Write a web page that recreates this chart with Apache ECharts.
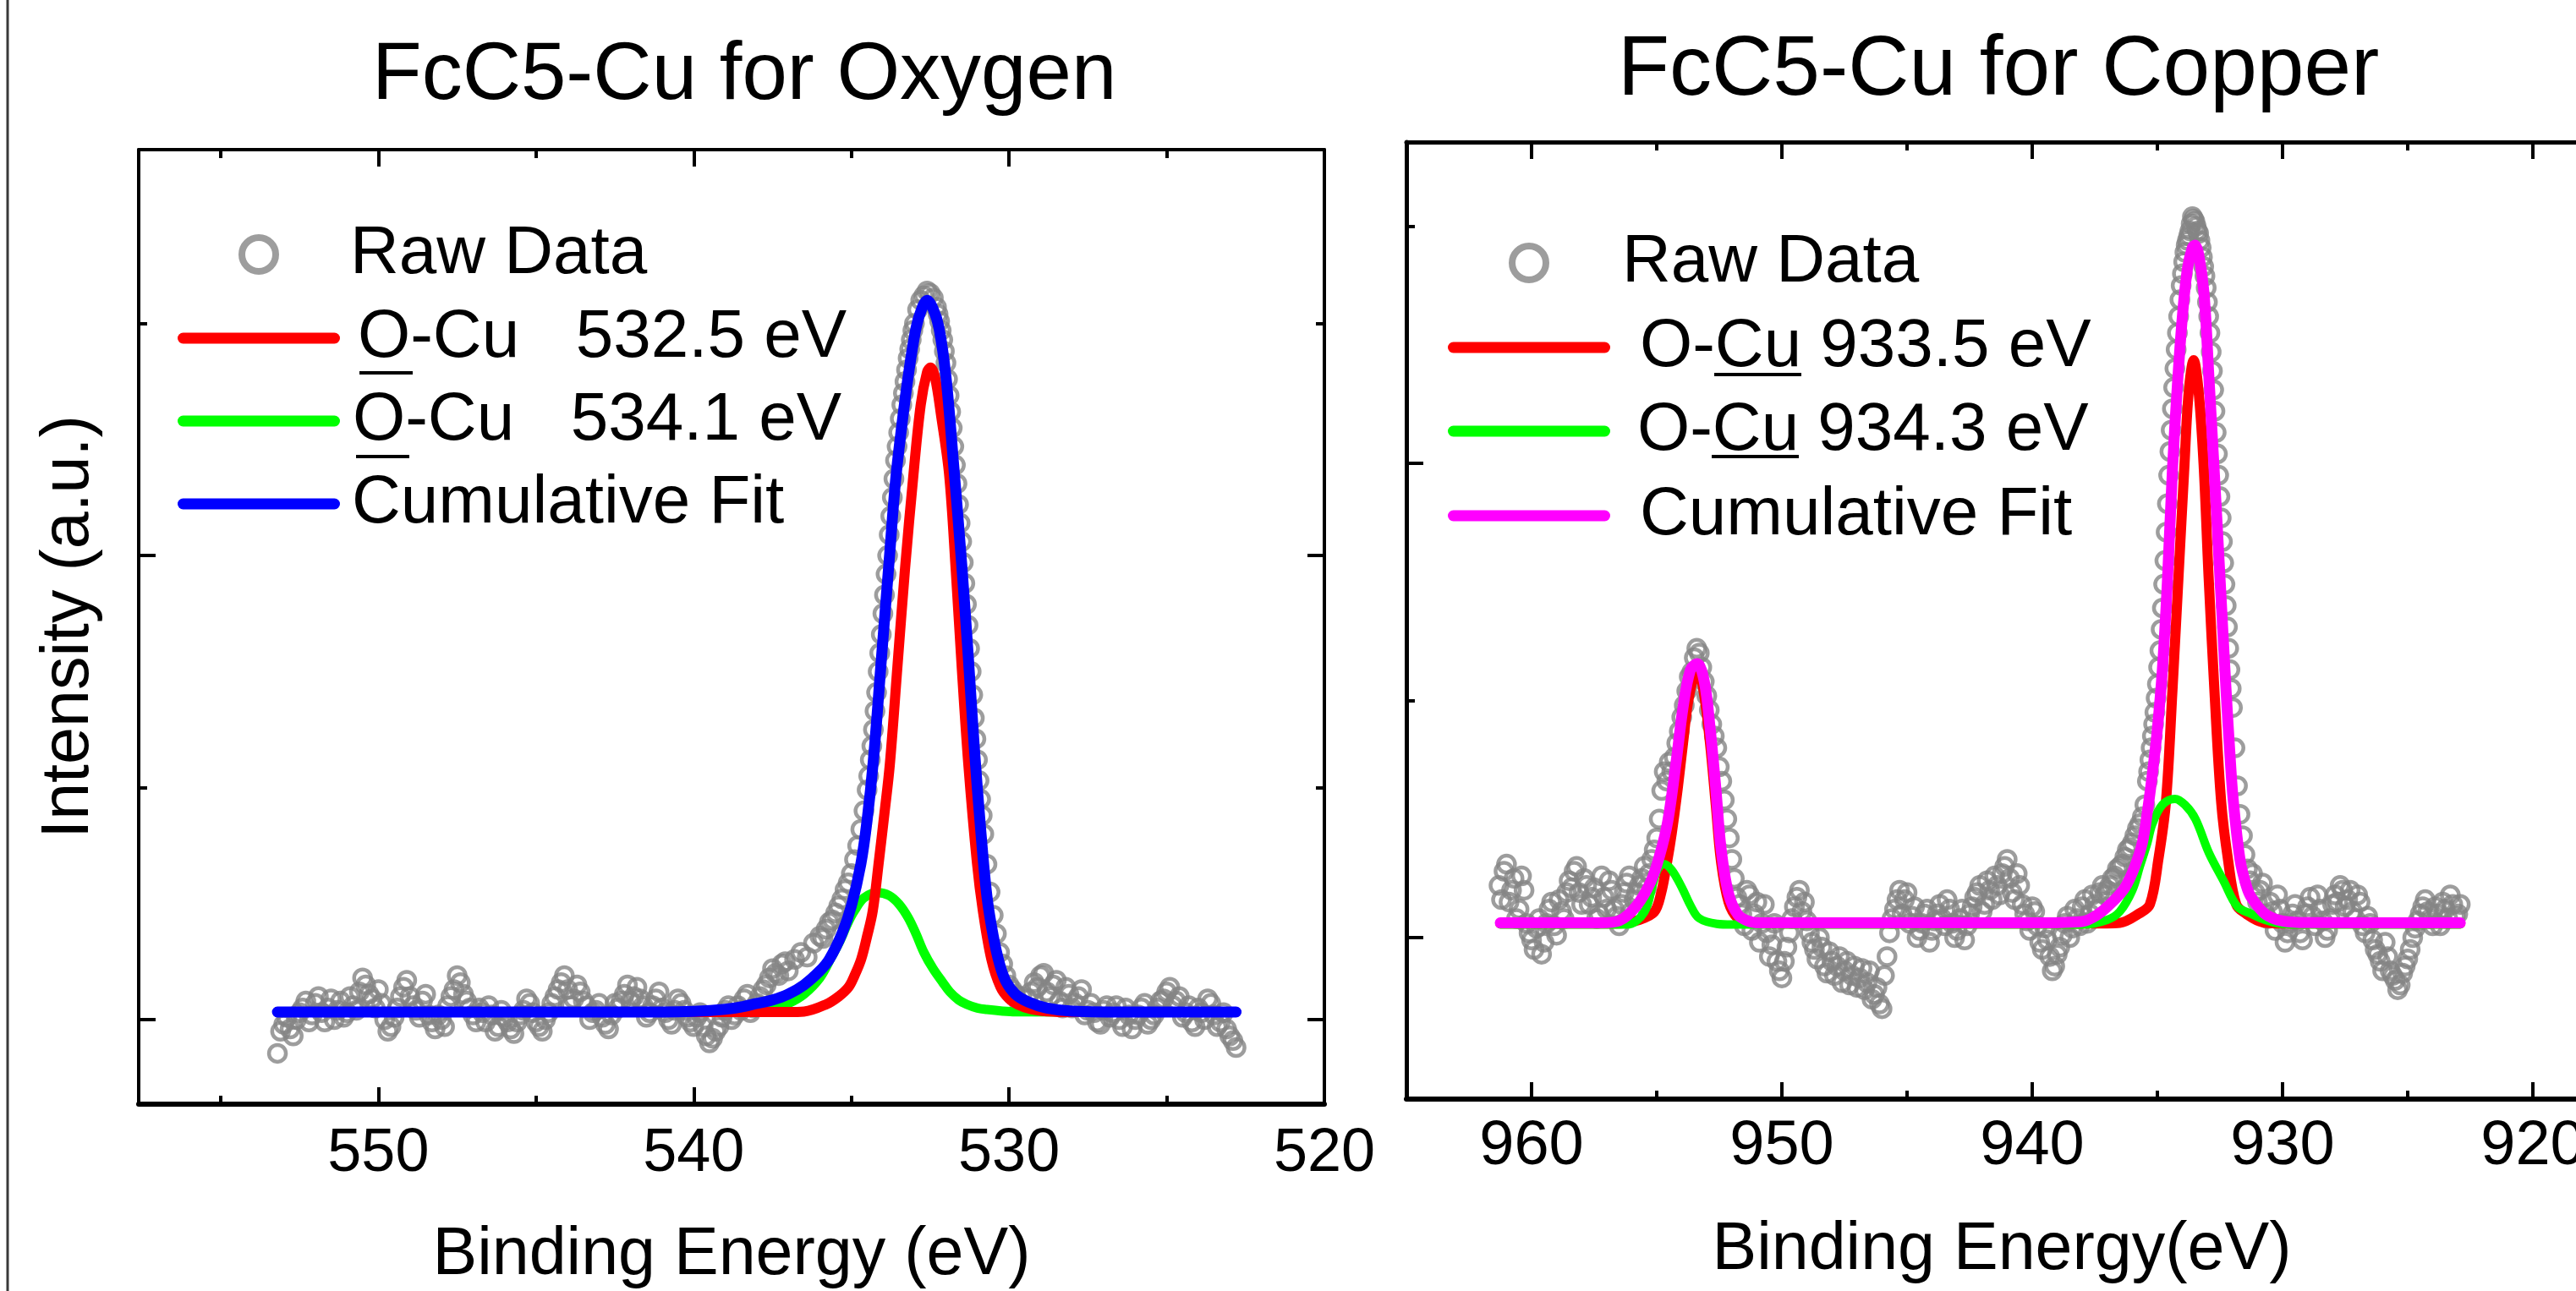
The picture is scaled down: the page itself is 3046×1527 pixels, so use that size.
<!DOCTYPE html>
<html>
<head>
<meta charset="utf-8">
<title>FcC5-Cu XPS</title>
<script src="https://cdn.jsdelivr.net/npm/echarts@6.0.0/dist/echarts.min.js"></script>
<style>
  html, body { margin: 0; padding: 0; background: #fff; }
  #chart { width: 3046px; height: 1527px; }
</style>
</head>
<body>
<div id="chart"></div>
<script>
// ---- O 1s panel: [binding energy (eV), intensity (a.u.)] ----
const oxygenRaw = [
  [553.2,1.855],[553.0,1.98],[552.8,1.96],[552.6,2.00],[552.4,2.05],[552.2,1.99],[552.0,2.07],[551.8,2.03],
  [551.6,2.05],[551.4,2.00],[551.2,2.08],[551.0,2.03],[550.8,2.06],[550.6,2.12],[550.4,2.15],[550.2,2.09],
  [550.0,2.13],[549.8,2.00],[549.6,1.97],[549.4,2.05],[549.2,2.14],[549.0,2.10],[548.8,2.04],[548.6,2.08],
  [548.4,2.02],[548.2,1.96],[548.0,2.00],[547.8,2.06],[547.6,2.13],[547.4,2.16],[547.2,2.08],[547.0,2.02],
  [546.8,2.05],[546.6,1.99],[546.4,2.02],[546.2,1.97],[546.0,2.01],[545.8,1.96],[545.6,1.99],[545.4,2.04],
  [545.2,2.07],[545.0,1.99],[544.8,1.95],[544.6,2.03],[544.4,2.10],[544.2,2.16],[544.0,2.13],[543.8,2.09],
  [543.6,2.12],[543.4,2.06],[543.2,2.03],[543.0,2.07],[542.8,1.98],[542.6,2.02],[542.4,2.05],[542.2,2.11],
  [542.0,2.08],[541.8,2.14],[541.6,2.06],[541.4,2.03],[541.2,2.09],[541.0,2.05],[540.8,2.00],[540.6,2.04],
  [540.4,2.07],[540.2,2.01],[540.0,1.97],[539.8,2.03],[539.6,1.93],[539.4,1.92],[539.2,1.97],[539.0,2.04],
  [538.8,2.00],[538.6,2.06],[538.4,2.09],[538.2,2.03],[538.0,2.07],[537.8,2.13],[537.6,2.18],[537.4,2.20],
  [537.2,2.24],[537.0,2.21],[536.8,2.26],[536.6,2.29],[536.4,2.27],[536.2,2.33],[536.0,2.36],[535.9,2.35],
  [535.8,2.39],[535.7,2.42],[535.6,2.43],[535.5,2.46],[535.4,2.49],[535.3,2.52],[535.2,2.56],[535.1,2.59],
  [535.0,2.63],[534.9,2.69],[534.8,2.75],[534.7,2.82],[534.6,2.90],[534.5,2.99],[534.45,3.05],[534.4,3.12],
  [534.35,3.18],[534.3,3.25],[534.25,3.33],[534.2,3.41],[534.15,3.50],[534.1,3.58],[534.05,3.66],[534.0,3.75],
  [533.95,3.83],[533.9,3.92],[533.85,4.00],[533.8,4.09],[533.75,4.17],[533.7,4.25],[533.65,4.33],[533.6,4.41],
  [533.55,4.47],[533.5,4.53],[533.45,4.59],[533.4,4.65],[533.35,4.70],[533.3,4.75],[533.25,4.80],[533.2,4.85],
  [533.15,4.89],[533.1,4.93],[533.05,4.97],[533.0,5.00],[532.9,5.06],[532.8,5.10],[532.7,5.12],[532.6,5.14],
  [532.5,5.13],[532.4,5.11],[532.3,5.07],[532.25,5.04],[532.2,5.01],[532.15,4.97],[532.1,4.93],[532.05,4.88],
  [532.0,4.83],[531.95,4.76],[531.9,4.69],[531.85,4.62],[531.8,4.55],[531.75,4.47],[531.7,4.39],[531.65,4.31],
  [531.6,4.22],[531.55,4.14],[531.5,4.06],[531.45,3.97],[531.4,3.88],[531.35,3.79],[531.3,3.70],[531.25,3.60],
  [531.2,3.50],[531.15,3.40],[531.1,3.30],[531.05,3.21],[531.0,3.12],[530.95,3.03],[530.9,2.95],[530.85,2.88],
  [530.8,2.80],[530.7,2.67],[530.6,2.55],[530.5,2.45],[530.4,2.37],[530.3,2.29],[530.2,2.24],[530.1,2.19],
  [530.0,2.15],[529.9,2.13],[529.8,2.11],[529.7,2.08],[529.6,2.10],[529.5,2.06],[529.4,2.09],[529.2,2.16],
  [529.0,2.19],[528.8,2.12],[528.6,2.15],[528.4,2.08],[528.2,2.14],[528.0,2.05],[527.8,2.10],[527.6,2.02],
  [527.4,2.07],[527.2,1.99],[527.0,2.04],[526.8,2.01],[526.6,2.06],[526.4,1.97],[526.2,2.02],[526.0,2.00],
  [525.8,2.05],[525.6,1.98],[525.4,2.02],[525.2,2.08],[525.0,2.12],[524.8,2.06],[524.6,2.10],[524.4,2.03],
  [524.2,1.99],[524.0,2.05],[523.8,2.00],[523.6,2.07],[523.4,1.97],[523.2,2.03],[523.0,1.93],[522.8,1.88],
  // in-between scan points of the flat regions
  [553.1,1.95],[552.9,2.01],[552.7,1.93],[552.5,2.03],[552.3,2.08],[552.1,2.02],[551.9,2.10],[551.7,1.99],
  [551.5,2.09],[551.3,2.04],[551.1,2.01],[550.9,2.10],[550.7,2.04],[550.5,2.18],[550.3,2.11],[550.1,2.05],
  [549.9,2.07],[549.7,1.95],[549.5,2.01],[549.3,2.10],[549.1,2.17],[548.9,2.06],[548.7,2.01],[548.5,2.11],
  [548.3,1.99],[548.1,2.02],[547.9,1.97],[547.7,2.10],[547.5,2.19],[547.3,2.11],[547.1,2.05],[546.9,1.99],
  [546.7,2.03],[546.5,2.06],[546.3,1.95],[546.1,2.04],[545.9,1.99],[545.7,1.94],[545.5,2.02],[545.3,2.09],
  [545.1,2.03],[544.9,1.97],[544.7,2.00],[544.5,2.07],[544.3,2.13],[544.1,2.19],[543.9,2.06],[543.7,2.15],
  [543.5,2.08],[543.3,2.00],[543.1,2.04],[542.9,2.01],[542.7,1.96],[542.5,2.07],[542.3,2.08],[542.1,2.15],
  [541.9,2.10],[541.7,2.09],[541.5,2.01],[541.3,2.06],[541.1,2.12],[540.9,2.03],[540.7,1.98],[540.5,2.09],
  [540.3,2.04],[540.1,1.99],[539.9,2.01],[539.7,1.97],[539.5,1.90],[539.3,1.95],[539.1,2.01],[538.9,2.06],
  [538.7,2.02],[538.5,2.04],[538.3,2.11],[538.1,2.05],[537.9,2.10],[537.7,2.15],[537.5,2.22],[537.3,2.19],
  [537.1,2.25],[529.3,2.12],[529.1,2.14],[528.9,2.20],[528.7,2.10],[528.5,2.17],[528.3,2.05],[528.1,2.11],
  [527.9,2.07],[527.7,2.13],[527.5,2.04],[527.3,2.03],[527.1,1.98],[526.9,2.06],[526.7,2.03],[526.5,2.00],
  [526.3,2.05],[526.1,1.96],[525.9,2.02],[525.7,2.07],[525.5,2.00],[525.3,2.05],[525.1,2.09],[524.9,2.14],
  [524.7,2.08],[524.5,2.01],[524.3,2.06],[524.1,1.97],[523.9,2.03],[523.7,2.09],[523.5,2.02],[523.3,1.99],
  [523.1,1.96],[522.9,1.91]
];
const oxygenPeak1 = [ // O-Cu 532.5 eV
  [553.2,2.033],[540,2.033],[537,2.033],[536.5,2.035],[535.8,2.066],[535.4,2.10],[535.09,2.14],[534.9,2.19],
  [534.69,2.26],[534.5,2.36],[534.32,2.47],[534.13,2.68],[533.95,2.89],[533.78,3.10],[533.54,3.52],[533.3,3.94],
  [533.03,4.35],[532.8,4.65],[532.6,4.79],[532.49,4.81],[532.35,4.77],[532.15,4.60],[531.9,4.35],[531.69,3.94],
  [531.5,3.52],[531.29,3.10],[531.02,2.68],[530.83,2.47],[530.56,2.26],[530.27,2.14],[530.0,2.09],[529.73,2.066],
  [529.3,2.045],[528.8,2.036],[528,2.033],[522.8,2.033]
];
const oxygenPeak2 = [ // O-Cu 534.1 eV
  [553.2,2.033],[540,2.033],[539,2.034],[538,2.04],[537.5,2.05],[537,2.07],[536.5,2.11],[536,2.18],
  [535.63,2.27],[535.36,2.34],[535.1,2.42],[534.9,2.47],[534.6,2.525],[534.18,2.548],[533.8,2.535],[533.49,2.498],
  [533.2,2.44],[532.95,2.37],[532.7,2.29],[532.41,2.22],[532.1,2.16],[531.88,2.12],[531.6,2.085],[531.34,2.066],
  [531.0,2.05],[530.7,2.044],[530.2,2.037],[529.8,2.034],[522.8,2.033]
];
const oxygenFit = [ // cumulative fit
  [553.2,2.033],[541,2.033],[540,2.036],[539,2.045],[538.5,2.055],[538,2.07],[537.5,2.085],[537,2.11],
  [536.5,2.15],[536,2.21],[535.7,2.26],[535.3,2.37],[535,2.49],[534.7,2.67],[534.5,2.86],[534.3,3.12],
  [534.05,3.55],[533.8,3.98],[533.6,4.32],[533.4,4.56],[533.2,4.77],[532.95,4.98],[532.75,5.07],[532.6,5.10],
  [532.4,5.06],[532.22,4.98],[532.0,4.77],[531.75,4.38],[531.5,3.96],[531.3,3.58],[531.1,3.17],[530.9,2.82],
  [530.7,2.53],[530.5,2.36],[530.3,2.24],[530.1,2.165],[529.8,2.11],[529.4,2.077],[528.8,2.05],[528,2.037],
  [526,2.033],[522.8,2.033]
];

// ---- Cu 2p panel ----
const copperRaw = [
  [961.3,2.22],[961.1,2.28],[960.9,2.15],[960.7,2.25],[960.5,2.12],[960.3,2.20],[960.1,2.02],[959.9,1.95],
  [959.7,2.08],[959.5,1.98],[959.3,2.12],[959.1,2.05],[958.9,2.16],[958.7,2.08],[958.5,2.24],[958.3,2.28],
  [958.1,2.19],[957.9,2.25],[957.7,2.14],[957.5,2.21],[957.3,2.10],[957.1,2.17],[956.9,2.24],[956.7,2.12],
  [956.5,2.05],[956.3,2.19],[956.1,2.26],[955.9,2.16],[955.7,2.22],[955.5,2.30],[955.3,2.27],[955.1,2.37],
  [954.9,2.50],[954.8,2.62],[954.7,2.70],[954.6,2.66],[954.5,2.74],[954.4,2.70],[954.3,2.76],[954.2,2.82],
  [954.1,2.87],[954.0,2.93],[953.9,2.98],[953.8,3.04],[953.7,3.10],[953.6,3.12],[953.5,3.18],[953.4,3.22],
  [953.3,3.20],[953.2,3.14],[953.1,3.08],[953.0,3.02],[952.9,2.96],[952.8,2.90],[952.7,2.85],[952.6,2.80],
  [952.5,2.72],[952.4,2.66],[952.3,2.58],[952.2,2.50],[952.1,2.42],[952.0,2.33],[951.9,2.25],[951.8,2.17],
  [951.7,2.14],[951.5,2.05],[951.3,2.18],[951.1,2.10],[950.9,1.98],[950.7,2.14],[950.5,1.92],[950.3,2.06],
  [950.1,1.86],[949.9,1.90],[949.7,2.02],[949.5,2.13],[949.3,2.20],[949.1,2.15],[948.9,2.02],[948.7,1.95],
  [948.5,2.00],[948.3,1.88],[948.1,1.94],[947.9,1.84],[947.7,1.92],[947.5,1.86],[947.3,1.80],[947.1,1.88],
  [946.9,1.83],[946.7,1.78],[946.5,1.86],[946.3,1.76],[946.1,1.72],[945.9,1.84],[945.7,2.02],[945.5,2.12],
  [945.3,2.20],[945.1,2.16],[944.9,2.06],[944.7,2.13],[944.5,2.03],[944.3,2.10],[944.1,1.98],[943.9,2.07],
  [943.7,2.14],[943.5,2.05],[943.3,2.12],[943.1,2.00],[942.9,2.08],[942.7,1.99],[942.5,2.10],[942.3,2.17],
  [942.1,2.22],[941.9,2.14],[941.7,2.20],[941.5,2.26],[941.3,2.18],[941.1,2.30],[940.9,2.25],[940.7,2.16],
  [940.5,2.22],[940.3,2.10],[940.1,2.03],[939.9,2.11],[939.7,1.98],[939.5,2.04],[939.3,1.92],[939.1,1.88],
  [938.9,1.96],[938.7,2.06],[938.5,2.00],[938.3,2.12],[938.1,2.05],[937.9,2.16],[937.7,2.10],[937.5,2.14],
  [937.3,2.19],[937.1,2.18],[936.9,2.22],[936.7,2.26],[936.5,2.30],[936.3,2.34],[936.1,2.38],[935.9,2.43],
  [935.7,2.48],[935.5,2.56],[935.4,2.66],[935.35,2.70],[935.3,2.75],[935.25,2.80],[935.2,2.85],[935.15,2.90],
  [935.1,2.95],[935.05,3.01],[935.0,3.07],[934.95,3.14],[934.9,3.21],[934.85,3.30],[934.8,3.39],[934.75,3.49],
  [934.7,3.59],[934.65,3.71],[934.6,3.83],[934.55,3.95],[934.5,4.05],[934.45,4.14],[934.4,4.23],[934.35,4.32],
  [934.3,4.40],[934.25,4.48],[934.2,4.55],[934.15,4.62],[934.1,4.69],[934.05,4.75],[934.0,4.80],[933.95,4.85],
  [933.9,4.89],[933.85,4.92],[933.8,4.94],[933.75,4.96],[933.7,4.98],[933.65,5.01],[933.6,5.04],[933.55,5.03],
  [933.5,5.02],[933.45,5.00],[933.4,4.98],[933.35,4.97],[933.3,4.94],[933.25,4.91],[933.2,4.87],[933.15,4.83],
  [933.1,4.79],[933.05,4.74],[933.0,4.68],[932.95,4.62],[932.9,4.55],[932.85,4.47],[932.8,4.39],[932.75,4.31],
  [932.7,4.22],[932.65,4.13],[932.6,4.04],[932.55,3.95],[932.5,3.86],[932.45,3.77],[932.4,3.67],[932.35,3.58],
  [932.3,3.49],[932.25,3.40],[932.2,3.31],[932.15,3.22],[932.1,3.13],[932.05,3.05],[932.0,2.97],[931.9,2.80],
  [931.8,2.64],[931.7,2.52],[931.6,2.43],[931.5,2.35],[931.4,2.29],[931.3,2.24],[931.1,2.19],[930.9,2.20],
  [930.7,2.10],[930.5,2.15],[930.3,2.03],[930.1,2.12],[929.9,1.98],[929.7,2.06],[929.5,2.14],[929.3,2.02],
  [929.1,2.10],[928.9,2.17],[928.7,2.05],[928.5,2.12],[928.3,2.00],[928.1,2.08],[927.9,2.18],[927.7,2.22],
  [927.5,2.13],[927.3,2.20],[927.1,2.08],[926.9,2.15],[926.7,2.02],[926.5,2.06],[926.3,1.95],[926.1,1.90],
  [925.9,1.98],[925.7,1.86],[925.5,1.82],[925.3,1.80],[925.1,1.88],[924.9,1.95],[924.7,2.04],[924.5,2.10],
  [924.3,2.16],[924.1,2.08],[923.9,2.13],[923.7,2.05],[923.5,2.12],[923.3,2.18],[923.1,2.09],[922.9,2.14],
  // in-between scan points of the flat regions
  [961.2,2.16],[961.0,2.31],[960.8,2.20],[960.6,2.08],[960.4,2.26],[960.2,2.06],[960.0,1.99],[959.8,2.04],
  [959.6,1.93],[959.4,2.06],[959.2,2.15],[959.0,2.01],[958.8,2.11],[958.6,2.19],[958.4,2.21],[958.2,2.30],
  [958.0,2.14],[957.8,2.22],[957.6,2.17],[957.4,2.08],[957.2,2.26],[957.0,2.12],[956.8,2.20],[956.6,2.09],
  [956.4,2.14],[956.2,2.23],[956.0,2.11],[955.8,2.19],[955.6,2.25],[955.4,2.21],[955.2,2.33],[955.0,2.42],
  [951.6,2.10],[951.4,2.20],[951.2,2.03],[951.0,2.15],[950.8,2.06],[950.6,2.02],[950.4,1.97],[950.2,1.90],
  [950.0,1.83],[949.8,1.96],[949.6,2.08],[949.4,2.17],[949.2,2.11],[949.0,2.07],[948.8,1.98],[948.6,1.91],
  [948.4,1.96],[948.2,1.85],[948.0,1.90],[947.8,1.88],[947.6,1.81],[947.4,1.90],[947.2,1.84],[947.0,1.79],
  [946.8,1.87],[946.6,1.81],[946.4,1.74],[946.2,1.79],[946.0,1.70],[945.8,1.92],[945.6,2.08],[945.4,2.16],
  [945.2,2.10],[945.0,2.19],[944.8,2.09],[944.6,2.00],[944.4,2.06],[944.2,2.12],[944.0,2.03],[943.8,2.10],
  [943.6,2.08],[943.4,2.16],[943.2,2.06],[943.0,2.03],[942.8,2.12],[942.6,2.05],[942.4,2.13],[942.2,2.19],
  [942.0,2.11],[941.8,2.24],[941.6,2.16],[941.4,2.22],[941.2,2.27],[941.0,2.33],[940.8,2.19],[940.6,2.27],
  [940.4,2.14],[940.2,2.07],[940.0,2.13],[939.8,2.05],[939.6,1.95],[939.4,1.99],[939.2,1.86],[939.0,1.93],
  [938.8,2.01],[938.6,2.09],[938.4,2.04],[938.2,2.08],[938.0,2.13],[937.8,2.06],[937.6,2.18],[937.4,2.12],
  [937.2,2.22],[937.0,2.20],[936.8,2.25],[936.6,2.29],[936.4,2.31],[936.2,2.37],[936.0,2.40],[935.8,2.46],
  [935.6,2.51],[931.2,2.27],[931.0,2.15],[930.8,2.23],[930.6,2.08],[930.4,2.11],[930.2,2.18],[930.0,2.06],
  [929.8,2.02],[929.6,2.10],[929.4,2.07],[929.2,1.99],[929.0,2.13],[928.8,2.09],[928.6,2.18],[928.4,2.07],
  [928.2,2.03],[928.0,2.14],[927.8,2.15],[927.6,2.20],[927.4,2.16],[927.2,2.11],[927.0,2.18],[926.8,2.05],
  [926.6,2.09],[926.4,1.99],[926.2,1.93],[926.0,1.86],[925.8,1.92],[925.6,1.84],[925.4,1.78],[925.2,1.85],
  [925.0,1.91],[924.8,2.00],[924.6,2.07],[924.4,2.13],[924.2,2.11],[924.0,2.05],[923.8,2.10],[923.6,2.15],
  [923.4,2.08],[923.2,2.14],[923.0,2.10]
];
const copperPeak1 = [ // O-Cu 933.5 eV
  [961.25,2.06],[956.5,2.06],[955.7,2.075],[955.1,2.108],[954.83,2.185],[954.6,2.31],[954.4,2.44],[954.16,2.63],
  [953.95,2.82],[953.72,3.01],[953.45,3.10],[953.3,3.10],[953.1,3.02],[952.87,2.82],[952.64,2.56],[952.43,2.32],
  [952.13,2.15],[951.75,2.08],[951.3,2.062],[950.5,2.06],[937,2.06],[936.5,2.062],[935.75,2.10],[935.3,2.14],
  [934.96,2.33],[934.66,2.57],[934.4,3.04],[934.16,3.515],[933.92,3.99],[933.75,4.30],[933.55,4.435],[933.35,4.30],
  [933.15,3.99],[932.95,3.515],[932.72,3.04],[932.45,2.57],[932.18,2.33],[931.85,2.14],[931.45,2.10],[930.8,2.065],
  [930,2.06],[922.9,2.06]
];
const copperPeak2 = [ // O-Cu 934.3 eV
  [961.25,2.055],[956.2,2.055],[955.5,2.107],[955.13,2.235],[954.95,2.29],[954.73,2.31],[954.4,2.285],[953.99,2.21],
  [953.65,2.135],[953.31,2.082],[952.6,2.058],[952,2.055],[938,2.055],[937,2.075],[936.5,2.11],[936.0,2.20],
  [935.7,2.30],[935.4,2.40],[935.2,2.48],[934.8,2.56],[934.3,2.585],[933.9,2.56],[933.48,2.50],[932.94,2.357],
  [932.36,2.24],[931.8,2.13],[931.25,2.10],[930.7,2.075],[930.0,2.058],[929,2.055],[922.9,2.055]
];
const copperFit = [ // cumulative fit
  [961.25,2.062],[957.2,2.062],[956.5,2.071],[955.8,2.135],[955.24,2.235],[954.9,2.34],[954.56,2.49],[954.22,2.745],
  [953.95,2.97],[953.65,3.13],[953.38,3.155],[953.1,3.08],[952.87,2.885],[952.64,2.63],[952.43,2.375],[952.13,2.185],
  [951.75,2.096],[951.3,2.068],[950.9,2.062],[940,2.062],[938,2.068],[937.4,2.096],[936.8,2.15],[936.3,2.21],
  [935.9,2.30],[935.6,2.40],[935.4,2.53],[935.2,2.69],[935.0,2.88],[934.8,3.13],[934.6,3.50],[934.4,3.97],
  [934.2,4.33],[934.0,4.62],[933.8,4.82],[933.6,4.91],[933.5,4.92],[933.35,4.88],[933.14,4.72],[932.94,4.36],
  [932.7,3.91],[932.47,3.46],[932.26,3.05],[932.1,2.77],[931.97,2.58],[931.7,2.33],[931.45,2.22],[931.25,2.17],
  [930.7,2.10],[930.0,2.07],[929,2.063],[922.9,2.062]
];

// ---- axes ----
const oxygenRange = [520, 557.6];
const copperRange = [915, 965];
const oxygenIntensityRange = [1.636, 5.749];
const copperIntensityRange = [1.319, 5.355];
const oxygenMajorTicks = [520, 530, 540, 550];
const oxygenMinorTicks = [525, 535, 545, 555];
const copperMajorTicks = [920, 930, 940, 950, 960];
const copperMinorTicks = [925, 935, 945, 955];
const intensityMajorTicks = [2, 4];
const intensityMinorTicks = [3, 5];

const oxygenNames = ['Raw Data', 'O-Cu   532.5 eV', 'O-Cu   534.1 eV', 'Cumulative Fit'];
const copperNames = ['Raw Data (Cu)', 'O-Cu 933.5 eV', 'O-Cu 934.3 eV', 'Cumulative Fit (Cu)'];

const FONT = '"Liberation Sans", Arial, Helvetica, sans-serif';
const RAW_GRAY = '#858585';
const CAPSULE = 'path://M6.5,0H185.5A6.5,6.5,0,0,1,185.5,13H6.5A6.5,6.5,0,0,1,6.5,0Z';

// one frame edge: ticks only, or ticks + line
function frameAxis(dim, gridIndex, range, position, ticks, tickLength, lineWidth) {
  return {
    type: 'value',
    gridIndex: gridIndex,
    position: position,
    min: range[0],
    max: range[1],
    inverse: dim === 'x',
    axisLine: { show: lineWidth > 0, onZero: false, lineStyle: { color: '#000', width: lineWidth } },
    axisTick: { show: true, inside: true, length: tickLength, customValues: ticks, lineStyle: { color: '#000', width: 4 } },
    axisLabel: { show: false },
    splitLine: { show: false },
    minorTick: { show: false }
  };
}

function energyAxis(gridIndex, range, ticks, fontSize, margin, name, namePadding) {
  const axis = frameAxis('x', gridIndex, range, 'bottom', ticks, 20, 6);
  axis.axisLabel = { show: true, customValues: ticks, margin: margin, fontSize: fontSize, lineHeight: fontSize, color: '#000', fontFamily: FONT };
  axis.name = name;
  axis.nameLocation = 'middle';
  axis.nameGap = 140;
  axis.nameTextStyle = { fontSize: 79, lineHeight: 79, color: '#000', fontFamily: FONT, padding: namePadding };
  return axis;
}

const oxygenLeft = frameAxis('y', 0, oxygenIntensityRange, 'left', intensityMajorTicks, 20, 4);
oxygenLeft.name = 'Intensity (a.u.)';
oxygenLeft.nameLocation = 'middle';
oxygenLeft.nameGap = 42;
oxygenLeft.nameTextStyle = { fontSize: 79, lineHeight: 79, color: '#000', fontFamily: FONT };

const xAxes = [
  energyAxis(0, oxygenRange, oxygenMajorTicks, 72, 23, 'Binding Energy (eV)', [0, 0, 0, 0]),
  frameAxis('x', 0, oxygenRange, 'bottom', oxygenMinorTicks, 10, 0),
  frameAxis('x', 0, oxygenRange, 'top', oxygenMajorTicks, 20, 4),
  frameAxis('x', 0, oxygenRange, 'top', oxygenMinorTicks, 10, 0),
  energyAxis(1, copperRange, copperMajorTicks, 74, 20, 'Binding Energy(eV)', [0, 72, 0, 0]),
  frameAxis('x', 1, copperRange, 'bottom', copperMinorTicks, 10, 0),
  frameAxis('x', 1, copperRange, 'top', copperMajorTicks, 20, 5),
  frameAxis('x', 1, copperRange, 'top', copperMinorTicks, 10, 0)
];
const yAxes = [
  oxygenLeft,
  frameAxis('y', 0, oxygenIntensityRange, 'left', intensityMinorTicks, 10, 0),
  frameAxis('y', 0, oxygenIntensityRange, 'right', intensityMajorTicks, 20, 4),
  frameAxis('y', 0, oxygenIntensityRange, 'right', intensityMinorTicks, 10, 0),
  frameAxis('y', 1, copperIntensityRange, 'left', intensityMajorTicks, 20, 5),
  frameAxis('y', 1, copperIntensityRange, 'left', intensityMinorTicks, 10, 0)
];

function rawSeries(name, data, axisIndex) {
  return {
    name: name, type: 'scatter', xAxisIndex: axisIndex, yAxisIndex: axisIndex, data: data,
    symbol: 'circle', symbolSize: 20, silent: true,
    itemStyle: { color: 'rgba(255,255,255,0)', borderColor: RAW_GRAY, borderWidth: 4.5 }
  };
}
function fitSeries(name, data, axisIndex, color, width) {
  return {
    name: name, type: 'line', xAxisIndex: axisIndex, yAxisIndex: axisIndex, data: data,
    color: color, showSymbol: false, symbol: 'none', smooth: 0.35, silent: true,
    lineStyle: { color: color, width: width, cap: 'round', join: 'round' },
    itemStyle: { color: color }
  };
}

const legendText = { fontSize: 80, lineHeight: 80, color: '#000', fontFamily: FONT };
function legendAt(name, left, top, textPad, extra) {
  return Object.assign({
    data: [name], left: left, top: top, orient: 'vertical', padding: 0, selectedMode: false,
    itemWidth: 192, itemHeight: 13, icon: CAPSULE, itemStyle: { borderWidth: 0 },
    textStyle: Object.assign({}, legendText, { padding: [0, 0, 0, textPad] })
  }, extra || {});
}
// the legend box starts at the ring's outer edge, not at the icon slot
const rawIcon = { icon: 'circle', itemHeight: 40, itemStyle: { color: 'rgba(255,255,255,0)', borderColor: RAW_GRAY, borderWidth: 8 } };

const chart = echarts.init(document.getElementById('chart'));
chart.setOption({
  animation: false,
  backgroundColor: '#fff',
  textStyle: { fontFamily: FONT },
  title: [
    { text: 'FcC5-Cu for Oxygen', left: 440, top: 43, padding: 0,
      textStyle: { fontSize: 96, lineHeight: 96, fontWeight: 'normal', color: '#000', fontFamily: FONT } },
    { text: 'FcC5-Cu for Copper', left: 1913, top: 34, padding: 0,
      textStyle: { fontSize: 100, lineHeight: 100, fontWeight: 'normal', color: '#000', fontFamily: FONT } }
  ],
  grid: [
    { left: 164, top: 177, width: 1402, height: 1129, outerBoundsMode: 'none', containLabel: false },
    { left: 1663, top: 168, width: 1480, height: 1132, outerBoundsMode: 'none', containLabel: false }
  ],
  xAxis: xAxes,
  yAxis: yAxes,
  legend: [
    legendAt(oxygenNames[0], 282, 261, 7, rawIcon),
    legendAt(oxygenNames[1], 210, 360, 16),
    legendAt(oxygenNames[2], 210, 458, 10),
    legendAt(oxygenNames[3], 210, 556, 9),
    legendAt(copperNames[0], 1784, 271, 9, Object.assign({ formatter: () => 'Raw Data' }, rawIcon)),
    legendAt(copperNames[1], 1712, 371, 30),
    legendAt(copperNames[2], 1712, 470, 27),
    legendAt(copperNames[3], 1712, 570, 30, { formatter: () => 'Cumulative Fit' })
  ],
  graphic: {
    elements: [
      { type: 'line', shape: { x1: 9, y1: 0, x2: 9, y2: 1527 }, style: { stroke: '#3a3a3a', lineWidth: 3 } },
      // underlined atoms in the legend labels
      { type: 'line', shape: { x1: 425, y1: 441, x2: 488, y2: 441 }, style: { stroke: '#000', lineWidth: 4 } },
      { type: 'line', shape: { x1: 421, y1: 540, x2: 484, y2: 540 }, style: { stroke: '#000', lineWidth: 4 } },
      { type: 'line', shape: { x1: 2027, y1: 443, x2: 2130, y2: 443 }, style: { stroke: '#000', lineWidth: 4 } },
      { type: 'line', shape: { x1: 2024, y1: 540, x2: 2127, y2: 540 }, style: { stroke: '#000', lineWidth: 4 } }
    ]
  },
  series: [
    rawSeries(oxygenNames[0], oxygenRaw, 0),
    fitSeries(oxygenNames[2], oxygenPeak2, 0, '#00ff00', 11),
    fitSeries(oxygenNames[1], oxygenPeak1, 0, '#ff0000', 12),
    fitSeries(oxygenNames[3], oxygenFit, 0, '#0000ff', 13),
    rawSeries(copperNames[0], copperRaw, 4),
    fitSeries(copperNames[1], copperPeak1, 4, '#ff0000', 12),
    fitSeries(copperNames[2], copperPeak2, 4, '#00ff00', 10),
    fitSeries(copperNames[3], copperFit, 4, '#ff00ff', 13)
  ]
});
</script>
</body>
</html>
